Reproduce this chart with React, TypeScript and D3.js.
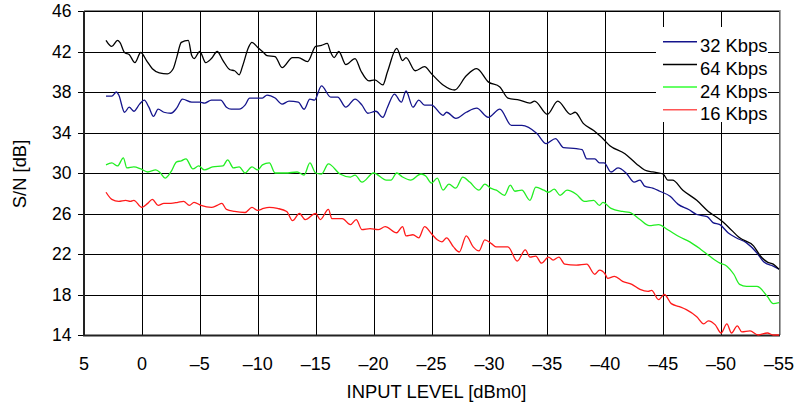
import React from 'react';
import * as d3 from 'd3';

// x ticks (dBm0) and y ticks (dB)
const levelTicks = [5, 0, -5, -10, -15, -20, -25, -30, -35, -40, -45, -50, -55];
const snrTicks = [14, 18, 22, 26, 30, 34, 38, 42, 46];

// [input level dBm0, S/N dB]
const kbps64: [number, number][] = [
  [3.1, 43.1], [2.6, 42.5], [2.1, 43.1], [1.9, 42.9], [1.5, 41.9], [1.1, 41.7], [0.6, 40.9], [0.1, 41.9],
  [-0.4, 41.1], [-0.9, 40.3], [-1.5, 39.9], [-2.2, 39.8], [-2.7, 40.3], [-3.0, 41.4], [-3.4, 42.9], [-4.0, 43.1],
  [-4.3, 41.6], [-4.5, 41.3], [-5.0, 42.0], [-5.5, 40.9], [-6.0, 41.3], [-6.5, 42.0], [-7.0, 41.1], [-7.6, 40.2],
  [-8.0, 40.1], [-8.4, 39.7], [-8.7, 40.6], [-9.2, 42.4], [-9.5, 42.9], [-10.0, 42.4], [-10.5, 41.9], [-10.8, 41.6],
  [-11.5, 41.5], [-12.1, 40.4], [-13.0, 41.4], [-13.5, 41.4], [-14.3, 41.0], [-15.0, 42.5], [-15.5, 42.6],
  [-16.0, 42.8], [-16.3, 41.9], [-16.6, 41.4], [-17.0, 42.0], [-17.6, 40.7], [-18.4, 41.3], [-18.9, 40.1],
  [-19.6, 39.1], [-20.1, 39.2], [-20.8, 38.7], [-21.2, 40.0], [-22.0, 42.3], [-22.5, 41.1], [-22.8, 41.4],
  [-23.6, 40.1], [-24.4, 40.5], [-25.0, 39.8], [-26.0, 38.7], [-27.0, 38.2], [-28.0, 39.6], [-28.9, 40.3],
  [-29.9, 39.0], [-30.9, 38.5], [-31.6, 37.4], [-32.6, 37.2], [-33.5, 36.9], [-33.9, 37.1], [-35.0, 35.8],
  [-35.9, 37.1], [-37.0, 35.8], [-37.4, 36.0], [-38.1, 34.9], [-39.0, 34.2], [-39.7, 33.5], [-40.4, 32.7],
  [-41.7, 31.9], [-42.7, 30.9], [-43.4, 30.3], [-44.1, 30.1], [-45.0, 29.9], [-45.4, 29.3], [-45.8, 29.3],
  [-46.7, 28.3], [-47.9, 27.3], [-48.9, 26.2], [-49.9, 25.4], [-50.6, 24.7], [-51.6, 23.6], [-52.8, 22.8],
  [-53.4, 21.8], [-54.0, 21.2], [-54.5, 21.0], [-55.0, 20.5],
];

const kbps32: [number, number][] = [
  [3.1, 37.6], [2.6, 37.6], [2.2, 38.0], [2.0, 37.7], [1.5, 36.0], [1.1, 36.5], [0.7, 36.1], [0.2, 36.8],
  [-0.2, 37.2], [-0.6, 36.5], [-1.0, 35.6], [-1.4, 36.3], [-1.9, 36.0], [-2.5, 35.9], [-3.0, 36.4], [-3.5, 37.3],
  [-4.3, 37.0], [-5.0, 37.0], [-5.4, 36.9], [-6.0, 37.2], [-6.8, 37.2], [-7.3, 36.5], [-7.7, 36.3], [-8.4, 36.3],
  [-8.9, 36.7], [-9.3, 37.4], [-10.0, 37.4], [-10.4, 37.4], [-10.8, 37.7], [-11.5, 37.4], [-12.1, 36.8],
  [-12.7, 37.1], [-13.5, 37.0], [-14.0, 36.3], [-14.5, 37.3], [-14.9, 37.2], [-15.5, 38.6], [-16.3, 37.5],
  [-16.9, 37.5], [-17.6, 36.5], [-18.4, 37.3], [-19.0, 36.7], [-19.5, 35.9], [-20.2, 36.1], [-20.8, 35.5],
  [-21.2, 36.5], [-21.8, 37.8], [-22.4, 37.0], [-22.8, 38.1], [-23.4, 36.5], [-23.9, 37.2], [-24.4, 36.7],
  [-25.0, 36.7], [-26.0, 35.7], [-26.3, 36.0], [-27.1, 35.4], [-28.0, 36.0], [-28.9, 36.4], [-29.9, 35.5],
  [-30.9, 36.3], [-31.9, 34.7], [-32.8, 34.7], [-34.1, 33.9], [-34.9, 32.9], [-35.7, 33.4], [-36.4, 32.5],
  [-37.5, 32.4], [-38.0, 32.3], [-38.4, 31.4], [-39.1, 31.4], [-39.5, 31.0], [-39.9, 31.0], [-40.5, 30.1],
  [-41.1, 30.5], [-41.8, 30.0], [-42.5, 29.1], [-43.0, 29.3], [-43.4, 28.7], [-44.1, 28.5], [-44.7, 28.2],
  [-45.6, 27.7], [-46.3, 26.9], [-47.2, 26.4], [-47.9, 25.9], [-48.8, 25.7], [-49.3, 25.1], [-49.9, 24.9],
  [-50.6, 24.1], [-51.3, 23.6], [-52.2, 23.1], [-53.1, 22.1], [-53.7, 21.2], [-54.5, 20.8], [-55.0, 20.5],
];

const kbps24: [number, number][] = [
  [3.1, 30.8], [2.6, 31.0], [2.1, 30.7], [1.6, 31.5], [1.3, 30.5], [0.7, 30.6], [0.1, 30.4], [-0.5, 30.1],
  [-1.2, 30.3], [-1.6, 30.0], [-2.0, 29.5], [-2.5, 30.1], [-3.0, 31.1], [-3.4, 31.2], [-3.8, 31.4], [-4.4, 30.4],
  [-4.9, 30.7], [-5.4, 30.3], [-6.1, 30.6], [-7.0, 30.7], [-7.4, 31.3], [-7.9, 30.5], [-8.4, 30.6], [-8.9, 30.0],
  [-9.5, 30.6], [-10.0, 30.3], [-10.4, 30.8], [-11.0, 31.0], [-11.5, 30.0], [-12.4, 30.0], [-13.4, 30.1],
  [-14.0, 29.8], [-14.5, 31.0], [-15.0, 30.0], [-15.5, 29.9], [-16.1, 30.9], [-17.1, 29.9], [-18.0, 29.6],
  [-18.4, 29.8], [-19.0, 29.1], [-20.0, 30.0], [-21.1, 29.3], [-21.5, 29.3], [-22.0, 30.0], [-22.5, 29.6],
  [-23.2, 29.3], [-24.1, 29.9], [-24.5, 29.7], [-25.0, 29.0], [-25.5, 29.5], [-26.0, 28.3], [-26.5, 28.9],
  [-27.1, 28.5], [-27.7, 29.6], [-28.3, 29.1], [-29.1, 28.3], [-29.6, 28.9], [-30.1, 28.5], [-30.6, 28.3],
  [-31.3, 27.8], [-31.8, 28.8], [-32.2, 28.2], [-32.8, 28.3], [-33.5, 27.3], [-34.0, 28.6], [-34.7, 28.3],
  [-35.1, 28.1], [-35.6, 28.4], [-36.1, 27.8], [-36.7, 28.3], [-37.5, 27.9], [-38.2, 27.2], [-39.0, 27.3],
  [-39.5, 26.8], [-39.8, 27.1], [-40.5, 26.5], [-41.5, 26.2], [-42.1, 26.1], [-43.0, 25.4], [-43.8, 24.8],
  [-44.6, 24.9], [-45.4, 24.4], [-46.4, 23.7], [-47.3, 23.2], [-48.2, 22.5], [-49.0, 21.8], [-49.9, 21.1],
  [-50.5, 20.8], [-51.1, 20.0], [-51.6, 19.0], [-52.2, 18.8], [-53.1, 18.8], [-54.0, 17.8], [-54.5, 17.1],
  [-55.0, 17.2],
];

const kbps16: [number, number][] = [
  [3.1, 28.1], [2.6, 27.4], [2.0, 27.2], [1.4, 27.3], [1.0, 27.2], [0.7, 27.3], [0.0, 26.6], [-0.5, 27.0],
  [-0.9, 27.4], [-1.4, 26.8], [-1.9, 27.0], [-2.5, 27.0], [-3.1, 27.1], [-3.6, 27.2], [-4.1, 26.8], [-4.5, 27.1],
  [-5.1, 26.8], [-6.0, 26.6], [-6.5, 26.8], [-6.9, 27.0], [-7.3, 26.4], [-8.0, 26.2], [-8.9, 26.1], [-9.5, 26.6],
  [-10.0, 26.3], [-10.5, 26.5], [-11.0, 26.6], [-11.7, 26.5], [-12.5, 26.2], [-13.0, 25.3], [-13.6, 26.0],
  [-14.1, 25.4], [-15.0, 26.0], [-15.4, 25.4], [-16.1, 26.4], [-16.4, 25.5], [-17.3, 25.5], [-18.0, 24.9],
  [-18.5, 25.4], [-19.0, 24.4], [-19.7, 24.5], [-20.4, 24.4], [-21.0, 24.7], [-22.0, 24.1], [-22.5, 24.7],
  [-22.8, 23.8], [-23.4, 23.9], [-23.9, 23.6], [-24.4, 24.7], [-25.0, 24.0], [-25.5, 23.4], [-25.9, 23.2],
  [-26.3, 23.6], [-26.9, 22.7], [-27.4, 22.2], [-28.0, 23.8], [-28.6, 22.7], [-29.1, 22.3], [-29.6, 23.4],
  [-30.2, 23.0], [-30.6, 22.7], [-31.6, 22.7], [-32.4, 21.3], [-33.1, 22.4], [-33.5, 21.7], [-34.0, 21.8],
  [-34.5, 21.1], [-35.1, 21.7], [-35.5, 21.4], [-36.0, 21.7], [-36.5, 21.0], [-37.5, 20.9], [-38.4, 21.0],
  [-39.1, 20.0], [-39.5, 20.4], [-40.0, 20.0], [-40.2, 19.6], [-40.8, 19.8], [-41.5, 19.3], [-42.3, 19.0],
  [-43.0, 18.5], [-43.7, 18.3], [-44.0, 18.4], [-44.6, 17.5], [-45.1, 18.0], [-45.7, 17.1], [-46.4, 16.8],
  [-47.0, 16.5], [-47.9, 15.8], [-48.5, 15.1], [-48.9, 15.4], [-49.5, 15.0], [-50.0, 14.2], [-50.5, 15.1],
  [-50.9, 14.2], [-51.4, 14.9], [-51.8, 14.3], [-52.5, 14.4], [-53.2, 14.0], [-54.0, 14.2], [-54.5, 14.0],
  [-55.0, 14.0],
];

const seriesNames = ['32 Kbps', '64 Kbps', '24 Kbps', '16 Kbps'];
const seriesColors = ['#14148c', '#000000', '#22ee22', '#ff1a1a'];
const legendColors = ['#14148c', '#000000', '#33ff33', '#ff5555'];

const W = 798;
const H = 406;
const left = 84;
const right = 779;
const top = 11;
const bottom = 335;
const FONT = 'Arial, "Liberation Sans", sans-serif';

const fmt = (v: number) => (v < 0 ? '\u2013' + Math.abs(v) : String(v));

export default function App() {
  const x = d3.scaleLinear().domain([5, -55]).range([left, right]);
  const y = d3.scaleLinear().domain([14, 46]).range([bottom, top]);

  const line = d3
    .line<[number, number]>()
    .x((d) => x(d[0]))
    .y((d) => y(d[1]))
    .curve(d3.curveMonotoneX);

  // drawing order: blue, black, green, red
  const series = [kbps32, kbps64, kbps24, kbps16];

  return (
    <svg
      width={W}
      height={H}
      style={{ position: 'absolute', left: 0, top: 0, background: '#fff' }}
      fontFamily={FONT}
    >
      {/* grid */}
      <g stroke="#000" strokeWidth={1} shapeRendering="crispEdges">
        {snrTicks.map((t) => (
          <line key={'h' + t} x1={left} x2={right} y1={Math.round(y(t)) + 0.5} y2={Math.round(y(t)) + 0.5} />
        ))}
        {levelTicks.map((t) => (
          <line key={'v' + t} x1={Math.round(x(t)) + 0.5} x2={Math.round(x(t)) + 0.5} y1={top} y2={bottom} />
        ))}
        {snrTicks.map((t) => (
          <line key={'t' + t} x1={left - 6} x2={left} y1={Math.round(y(t)) + 0.5} y2={Math.round(y(t)) + 0.5} />
        ))}
      </g>
      {/* frame */}
      <line x1={left} x2={right + 1} y1={top - 0.5} y2={top - 0.5} stroke="#888" strokeWidth={1} />
      <line x1={right + 1} x2={right + 1} y1={top - 1} y2={bottom} stroke="#888" strokeWidth={1.5} />
      <line x1={left} x2={left} y1={top} y2={bottom + 1} stroke="#222" strokeWidth={2} />
      <line x1={left - 1} x2={right + 1} y1={bottom + 0.5} y2={bottom + 0.5} stroke="#222" strokeWidth={2} />

      {/* legend box */}
      <rect x={656} y={27} width={112} height={95} fill="#fff" />

      {/* series */}
      {series.map((s, i) => (
        <path key={seriesNames[i]} d={line(s) || ''} fill="none" stroke={seriesColors[i]} strokeWidth={1.3} />
      ))}

      {/* y tick labels */}
      {snrTicks.map((t) => (
        <text key={'yl' + t} x={71.5} y={y(t)} dy="0.36em" textAnchor="end" fontSize={17.5} fill="#000">
          {t}
        </text>
      ))}
      {/* x tick labels */}
      {levelTicks.map((t) => (
        <text key={'xl' + t} x={x(t)} y={370} textAnchor="middle" fontSize={18} fill="#000">
          {fmt(t)}
        </text>
      ))}

      <text x={436.5} y={398} textAnchor="middle" fontSize={18.4} fill="#000">
        INPUT LEVEL [dBm0]
      </text>
      <text
        transform="translate(26,174) rotate(-90)"
        textAnchor="middle"
        fontSize={18.4}
        fill="#000"
      >
        S/N [dB]
      </text>

      {/* legend */}
      {seriesNames.map((n, i) => (
        <g key={'lg' + n} transform={`translate(0, ${41.7 + i * 22.7})`}>
          <line x1={663} x2={697} y1={0} y2={0} stroke={legendColors[i]} strokeWidth={1.5} />
          <text x={700} y={10.6} fontSize={18.4} fill="#000">
            {n}
          </text>
        </g>
      ))}
    </svg>
  );
}
